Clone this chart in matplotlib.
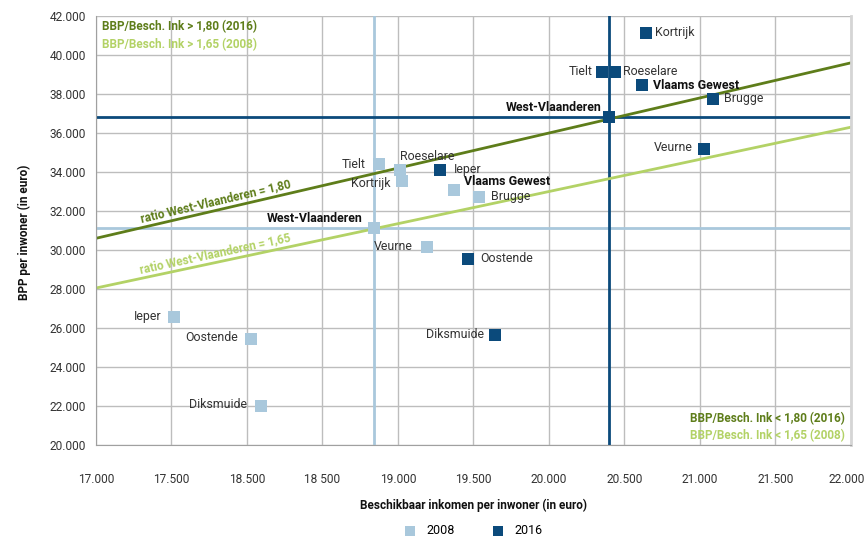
import matplotlib
matplotlib.use("Agg")
import matplotlib.pyplot as plt
import matplotlib.transforms as mtransforms
import numpy as np

plt.rcParams['font.family'] = ['Liberation Sans Narrow', 'Roboto', 'DejaVu Sans']

# === Data ===
gemeenten = ["Kortrijk", "Tielt", "Roeselare", "Vlaams Gewest", "Brugge",
             "West-Vlaanderen", "Veurne", "Ieper", "Oostende", "Diksmuide"]
ink_2016 = [20640, 20350, 20435, 20615, 21085, 20400, 21025, 19280, 19465, 19640]
bbp_2016 = [41130, 39130, 39130, 38460, 37750, 36820, 35180, 34110, 29550, 25650]
ink_2008 = [19025, 18875, 19010, 19370, 19535, 18838, 19190, 17515, 18025, 18090]
bbp_2008 = [33540, 34410, 34100, 33080, 32720, 31130, 30160, 26570, 25440, 22010]

ratio_2016 = 1.80
ratio_2008 = 1.65

x_ticks = [17000, 17500, 18000, 18500, 19000, 19500, 20000, 20500, 21000, 21500, 22000]
x_ticklabels = ["17.000", "17.500", "18.500", "18 500", "19.000", "19.500",
                "20.000", "20.500", "21.000", "21.500", "22.000"]
y_ticks = [20000, 22000, 24000, 26000, 28000, 30000, 32000, 34000, 36000, 38000, 40000, 42000]
y_ticklabels = ["20.000", "22.000", "24.000", "26.000", "28.000", "30.000",
                "32.000", "34.000", "36.000", "38.000", "40.000", "42.000"]

# label offsets in points (dx, dy, ha) per gemeente
offs_2016 = {
    "Kortrijk": (7, 0, "left"), "Tielt": (-7, 0, "right"), "Roeselare": (6, 0, "left"),
    "Vlaams Gewest": (8, 0, "left"), "Brugge": (8, 0, "left"),
    "West-Vlaanderen": (-6, 7, "right"), "Veurne": (-8, 1, "right"),
    "Ieper": (10, 0, "left"), "Oostende": (9, 0, "left"), "Diksmuide": (-8, 0, "right"),
}
offs_2008 = {
    "Kortrijk": (-8, -2, "right"), "Tielt": (-10, 0, "right"), "Roeselare": (0, 10, "left"),
    "Vlaams Gewest": (7, 6, "left"), "Brugge": (9, 0, "left"),
    "West-Vlaanderen": (-8, 7, "right"), "Veurne": (-10, 0, "right"),
    "Ieper": (-9, 0, "right"), "Oostende": (-9, 1, "right"), "Diksmuide": (-10, 1, "right"),
}
bold = {"Vlaams Gewest", "West-Vlaanderen"}

# === Colours ===
C16 = "#0B4A7B"
C08 = "#A9C8DC"
G16 = "#5E7D1A"
G08 = "#B3D266"
GRID = "#BDBDBD"
TXT = "#333333"

fig = plt.figure(figsize=(8.68, 5.36), dpi=100)
ax = fig.add_axes([0.1106, 0.1698, 0.8698, 0.8003])

ax.set_xlim(17000, 22000)
ax.set_ylim(20000, 42000)
ax.set_xticks(x_ticks)
ax.set_xticklabels(x_ticklabels)
ax.set_yticks(y_ticks)
ax.set_yticklabels(y_ticklabels)
ax.tick_params(length=0, labelsize=8.6, labelcolor=TXT)
ax.tick_params(axis="x", pad=20)
ax.tick_params(axis="y", pad=7)
# last x label sits at the figure edge: nudge it slightly inwards
last = ax.get_xticklabels()[-1]
last.set_transform(last.get_transform() +
                   mtransforms.ScaledTranslation(-3 / 72, 0, fig.dpi_scale_trans))
ax.grid(True, color=GRID, lw=1)
ax.set_axisbelow(True)
for s in ["left", "bottom"]:
    ax.spines[s].set_color("#A0A0A0")
ax.spines["top"].set_visible(False)
ax.spines["right"].set_color("#D5D5D5")
ax.spines["right"].set_linewidth(2)

# ratio lines
xs = np.array([17000, 22000])
ax.plot(xs, ratio_2016 * xs, color=G16, lw=2, zorder=2)
ax.plot(xs, ratio_2008 * xs, color=G08, lw=2, zorder=2)

# West-Vlaanderen reference lines
wv = gemeenten.index("West-Vlaanderen")
ax.axhline(bbp_2008[wv], color=C08, lw=2, zorder=1.5)
ax.axvline(ink_2008[wv], color=C08, lw=2, zorder=1.5)
ax.axhline(bbp_2016[wv], color=C16, lw=2, zorder=1.5)
ax.axvline(ink_2016[wv], color=C16, lw=2, zorder=1.5)

ax.scatter(ink_2008, bbp_2008, marker="s", s=72, color=C08, lw=0, zorder=3, label="2008")
ax.scatter(ink_2016, bbp_2016, marker="s", s=72, color=C16, lw=0, zorder=3, label="2016")

for data, offs in [((ink_2016, bbp_2016), offs_2016), ((ink_2008, bbp_2008), offs_2008)]:
    for name, xv, yv in zip(gemeenten, data[0], data[1]):
        dx, dy, ha = offs[name]
        ax.annotate(name, (xv, yv), xytext=(dx, dy), textcoords="offset points",
                    ha=ha, va="center", fontsize=8.9,
                    color="#111111" if name in bold else TXT,
                    fontweight="bold" if name in bold else "normal", zorder=4)

# ratio labels along lines
ang16 = 13.2
ang08 = 12.2
ax.text(17800, ratio_2016 * 17800 + 150, "ratio West-Vlaanderen = 1,80", color=G16,
        fontsize=8.5, fontweight="bold", rotation=ang16, ha="center", va="bottom",
        rotation_mode="anchor")
ax.text(17800, ratio_2008 * 17800 + 150, "ratio West-Vlaanderen = 1,65", color=G08,
        fontsize=8.5, fontweight="bold", rotation=ang08, ha="center", va="bottom",
        rotation_mode="anchor")

# corner notes
ax.text(0.008, 0.975, "BBP/Besch. Ink > 1,80 (2016)", transform=ax.transAxes, color=G16,
        fontsize=8.5, fontweight="bold", ha="left", va="center")
ax.text(0.008, 0.933, "BBP/Besch. Ink > 1,65 (2008)", transform=ax.transAxes, color=G08,
        fontsize=8.5, fontweight="bold", ha="left", va="center")
ax.text(0.992, 0.062, "BBP/Besch. Ink < 1,80 (2016)", transform=ax.transAxes, color=G16,
        fontsize=8.5, fontweight="bold", ha="right", va="center")
ax.text(0.992, 0.022, "BBP/Besch. Ink < 1,65 (2008)", transform=ax.transAxes, color=G08,
        fontsize=8.5, fontweight="bold", ha="right", va="center")

# axis titles
fig.text(474 / 868, 1 - 505 / 536, "Beschikbaar inkomen per inwoner (in euro)",
         fontsize=8.5, fontweight="bold", color="#111111", ha="center", va="center")
fig.text(24 / 868, 1 - 232 / 536, "BPP per inwoner (in euro)", fontsize=8.5,
         fontweight="bold", color="#111111", ha="center", va="center", rotation=90)

fig.legend(loc="center", bbox_to_anchor=(470 / 868, 1 - 531 / 536), ncol=2, frameon=False,
           fontsize=9, handletextpad=0.3, columnspacing=2.5, markerscale=0.9,
           borderpad=0)

fig.savefig("out.png", dpi=100, facecolor="white")
